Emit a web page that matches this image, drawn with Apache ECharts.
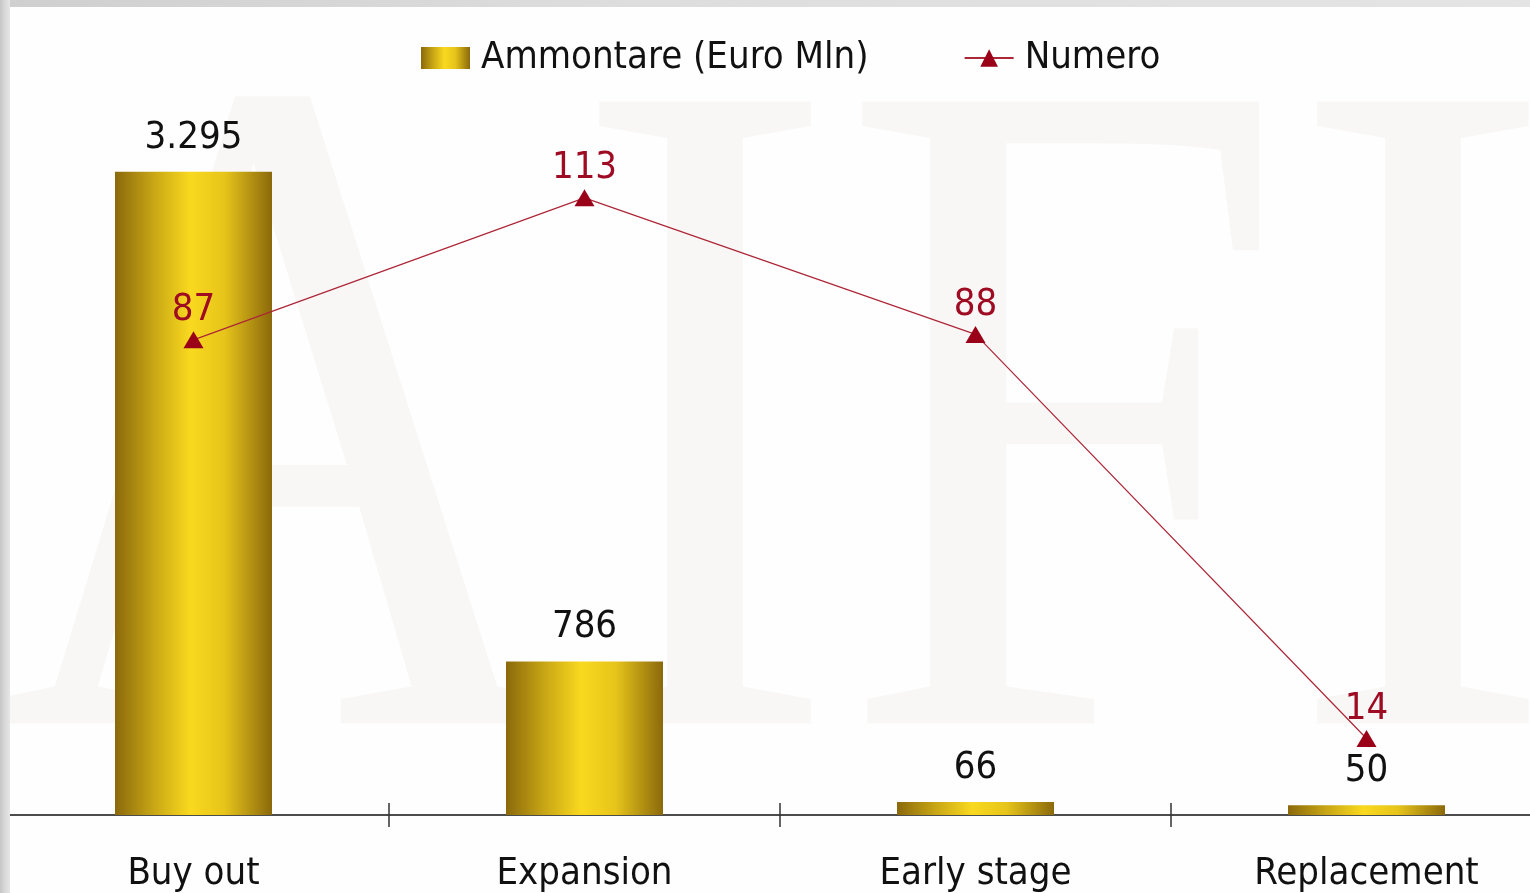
<!DOCTYPE html>
<html>
<head>
<meta charset="utf-8">
<script src="https://cdn.jsdelivr.net/npm/echarts@6/dist/echarts.min.js"></script>
<style>
html, body { margin: 0; padding: 0; width: 1530px; height: 893px; overflow: hidden; }
body { position: relative; background: #fefefe; }
#chart { position: absolute; left: -2px; top: 7px; width: 1564px; height: 886px; background: #fefefe; }
#edgeTop { position: absolute; left: 0; top: 0; width: 1530px; height: 7px; z-index: 3;
    background: linear-gradient(to right, #cfcfcf 0%, #dddddd 40%, #e4e4e4 100%); }
#edgeLeft { position: absolute; left: 0; top: 0; width: 10px; height: 893px; z-index: 3;
    background: linear-gradient(to right, #c6c6c6 0px, #d9d9d9 5px, #e6e6e6 10px); }
</style>
</head>
<body>
<div id="chart"></div>
<div id="edgeTop"></div>
<div id="edgeLeft"></div>
<script>
var categories = ['Buy out', 'Expansion', 'Early stage', 'Replacement'];
var ammontare = [3295, 786, 66, 50];
var numero = [87, 113, 88, 14];

var FONT = '"DejaVu Sans Condensed", "DejaVu Sans", sans-serif';

function fmtIt(v) {
    return String(v).replace(/\B(?=(\d{3})+(?!\d))/g, '.');
}

var gold = new echarts.graphic.LinearGradient(0, 0, 1, 0, [
    {offset: 0, color: '#8b690b'},
    {offset: 0.25, color: '#c9a715'},
    {offset: 0.48, color: '#f9d91f'},
    {offset: 0.7, color: '#e6c41a'},
    {offset: 1, color: '#8b690b'}
]);

var chart = echarts.init(document.getElementById('chart'), null, {renderer: 'canvas'});

chart.setOption({
    animation: false,
    textStyle: {fontFamily: FONT},
    graphic: [{
        type: 'text',
        z: -10,
        silent: true,
        x: -11,
        y: -8,
        scaleX: 0.85,
        style: {
            text: 'AIFI',
            font: '950px "Liberation Serif", serif',
            fill: '#f8f7f5'
        }
    }],
    legend: {
        left: 418,
        top: 27,
        itemWidth: 49,
        itemHeight: 22,
        itemGap: 95,
        data: [{name: 'Ammontare (Euro Mln)', icon: 'rect'}, {name: 'Numero'}],
        textStyle: {fontFamily: FONT, fontSize: 38, color: '#111', padding: [0, 0, 0, 6]}
    },
    grid: {left: 0, right: 0, top: 27, bottom: 77, containLabel: false},
    xAxis: [{
        type: 'category',
        data: categories,
        position: 'bottom',
        axisLine: {lineStyle: {color: '#111', width: 1.5}},
        axisTick: {show: true, length: 12, lineStyle: {color: '#333', width: 1.5}},
        axisLabel: {fontFamily: FONT, fontSize: 38, color: '#111', margin: 40}
    }, {
        type: 'category',
        data: categories,
        position: 'bottom',
        axisLine: {show: false},
        axisTick: {show: true, inside: true, length: 12, lineStyle: {color: '#333', width: 1.5}},
        axisLabel: {show: false}
    }],
    yAxis: [{
        type: 'value',
        min: 0,
        max: 4000,
        show: false,
        splitLine: {show: false}
    }, {
        type: 'value',
        min: 0,
        max: 143,
        show: false,
        splitLine: {show: false}
    }],
    series: [{
        name: 'Ammontare (Euro Mln)',
        type: 'bar',
        barWidth: 157,
        xAxisIndex: 0,
        yAxisIndex: 0,
        data: ammontare,
        itemStyle: {color: gold},
        label: {
            show: true,
            position: 'top',
            distance: 15,
            fontFamily: FONT,
            fontSize: 38,
            color: '#111',
            formatter: function (p) { return fmtIt(p.value); }
        }
    }, {
        name: 'Numero',
        type: 'line',
        xAxisIndex: 0,
        yAxisIndex: 1,
        data: numero,
        symbol: 'triangle',
        symbolSize: [20, 17],
        lineStyle: {color: '#ad2638', width: 1.2},
        itemStyle: {color: '#9a0018'},
        z: 5,
        label: {
            show: true,
            position: 'top',
            distance: 2,
            fontFamily: FONT,
            fontSize: 38,
            color: '#9e0b22'
        }
    }]
});
</script>
</body>
</html>
